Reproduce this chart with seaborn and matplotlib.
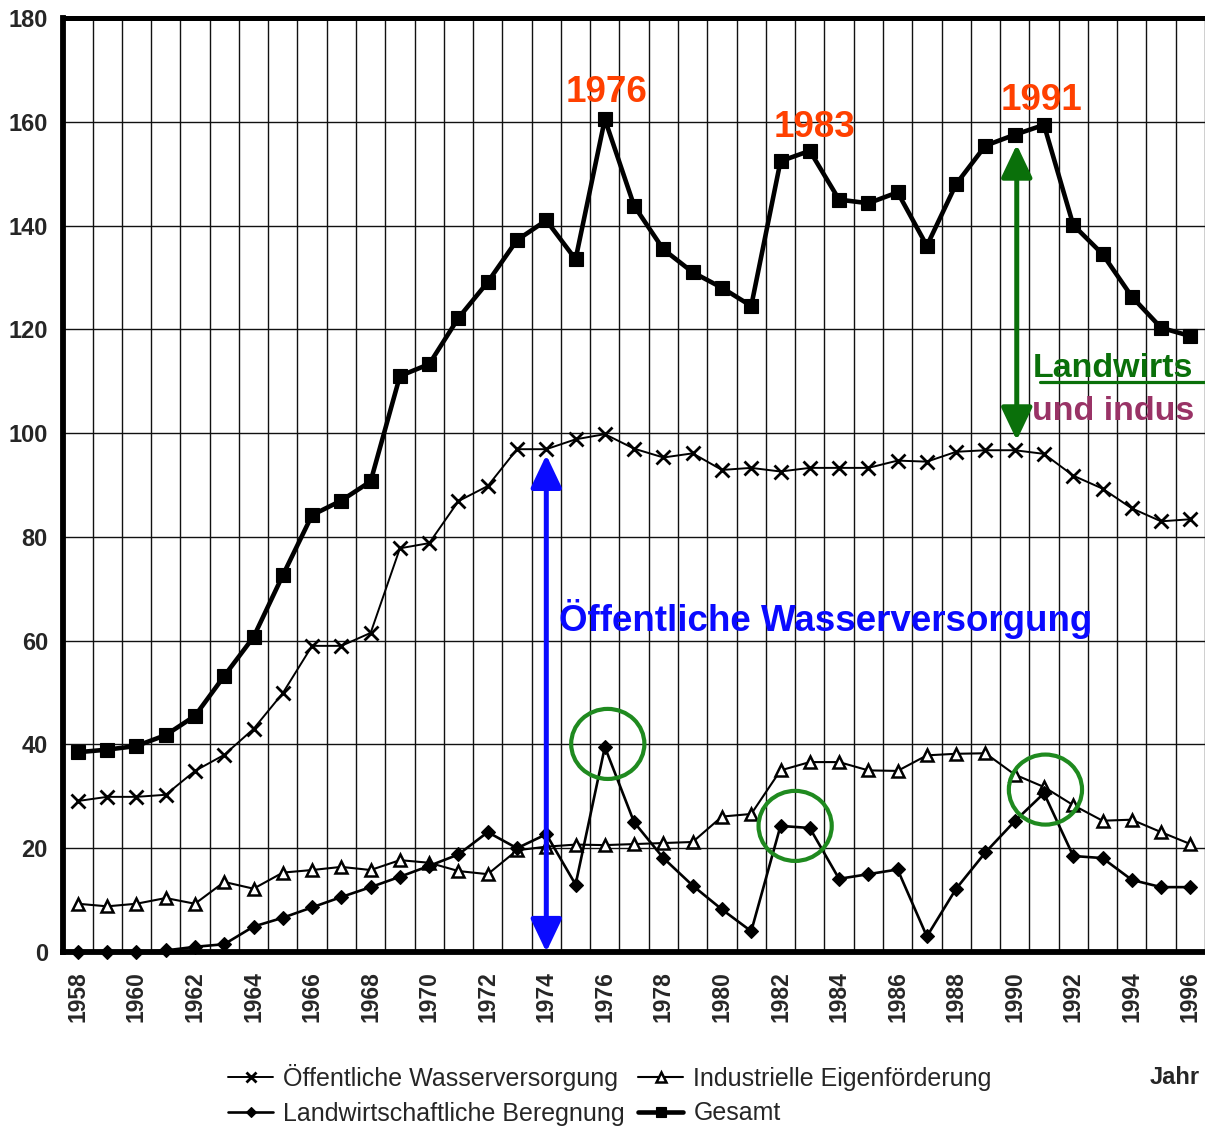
import numpy as np
import pandas as pd
import matplotlib
matplotlib.use("Agg")
import matplotlib.pyplot as plt
import seaborn as sns
from matplotlib.patches import Ellipse, FancyArrowPatch, ArrowStyle
from matplotlib.lines import Line2D

# ---------------- data ----------------
years = list(range(1958, 1997))
oeffentlich = [29.1, 29.9, 29.9, 30.3, 34.9, 38.0, 43.0, 49.9, 59.0, 59.0,
               61.5, 77.8, 78.8, 86.9, 89.8, 96.9, 96.9, 98.8, 99.8, 97.0,
               95.3, 96.1, 92.9, 93.3, 92.6, 93.3, 93.3, 93.3, 94.7, 94.5,
               96.4, 96.7, 96.7, 96.0, 91.8, 89.3, 85.5, 83.0, 83.4]
industrie = [9.3, 8.8, 9.3, 10.4, 9.3, 13.5, 12.2, 15.3, 15.8, 16.4,
             15.8, 17.7, 17.2, 15.6, 15.0, 19.6, 20.3, 20.7, 20.6, 20.8,
             21.0, 21.2, 26.1, 26.6, 35.0, 36.6, 36.6, 35.0, 34.9, 37.9,
             38.2, 38.3, 34.2, 31.8, 28.3, 25.3, 25.5, 23.1, 20.8]
landwirtschaft = [0.0, 0.0, 0.0, 0.3, 1.0, 1.5, 4.9, 6.6, 8.6, 10.6,
                  12.5, 14.5, 16.6, 18.8, 23.1, 20.0, 22.7, 13.0, 39.5, 25.0,
                  18.1, 12.8, 8.2, 4.0, 24.3, 23.9, 14.1, 15.0, 15.9, 3.0,
                  12.2, 19.2, 25.2, 30.6, 18.5, 18.1, 13.9, 12.5, 12.5]
gesamt = [38.5, 39.0, 39.7, 41.8, 45.5, 53.2, 60.7, 72.6, 84.2, 87.0,
          90.7, 111.0, 113.3, 122.2, 129.1, 137.2, 141.0, 133.5, 160.5, 143.8,
          135.4, 131.0, 128.0, 124.5, 152.4, 154.4, 145.0, 144.3, 146.4, 136.1,
          148.0, 155.4, 157.5, 159.4, 140.1, 134.5, 126.3, 120.3, 118.7]

series_labels = ["Öffentliche Wasserversorgung", "Industrielle Eigenförderung",
                 "Landwirtschaftliche Beregnung", "Gesamt"]
y_ticks = list(range(0, 181, 20))
x_tick_years = years[::2]

# ---------------- style ----------------
sns.set_style("white")
plt.rcParams["font.family"] = ["Liberation Sans", "DejaVu Sans"]

RED = "#FF4000"
BLUE = "#0A0AFF"
GREEN = "#0A700A"
CIRCLE_GREEN = "#1F8A1F"
PURPLE = "#993366"

W, H = 1205, 1127
fig = plt.figure(figsize=(W / 100, H / 100), dpi=100)
left_px, right_px, top_px, bottom_px = 63.25, 1205, 18, 952
ax = fig.add_axes([left_px / W, (H - bottom_px) / H,
                   (right_px - left_px) / W, (bottom_px - top_px) / H])

# ---------------- series ----------------
sns.lineplot(x=years, y=oeffentlich, ax=ax, color="black", linewidth=1.4,
             marker="x", markersize=9.5, markeredgewidth=2.0,
             markeredgecolor="black", label=series_labels[0], clip_on=False,
             zorder=4)
sns.lineplot(x=years, y=industrie, ax=ax, color="black", linewidth=1.5,
             marker="^", markersize=8.5, markeredgewidth=1.8,
             markerfacecolor="white", markeredgecolor="black",
             label=series_labels[1], clip_on=False, zorder=4)
sns.lineplot(x=years, y=landwirtschaft, ax=ax, color="black", linewidth=1.9,
             marker="D", markersize=7, markeredgewidth=0.8,
             markeredgecolor="black", label=series_labels[2], clip_on=False,
             zorder=5)
sns.lineplot(x=years, y=gesamt, ax=ax, color="black", linewidth=3.3,
             marker="s", markersize=9.5, markeredgewidth=0.8,
             markeredgecolor="black", label=series_labels[3], clip_on=False,
             zorder=6)

handles, labels = ax.get_legend_handles_labels()
if ax.get_legend() is not None:
    ax.get_legend().remove()

# ---------------- axes ----------------
x0 = 1957.5
ax.set_xlim(x0, x0 + (right_px - left_px) / 29.5)
ax.set_ylim(0, 180)
ax.set_xlabel("")
ax.set_ylabel("")

ax.set_yticks(y_ticks)
ax.set_yticklabels([str(v) for v in y_ticks], fontsize=17, fontweight="bold")
ax.set_xticks(x_tick_years)
ax.set_xticklabels([str(y) for y in x_tick_years], rotation=90,
                   fontsize=16.5, fontweight="bold", va="top")
ax.set_xticks(np.arange(1957.5, 1997.0, 1.0), minor=True)

ax.tick_params(axis="x", which="major", length=0, pad=14)
ax.tick_params(axis="x", which="minor", length=6.5, width=3.6,
               direction="out", color="black")
ax.tick_params(axis="y", which="major", length=4, width=3, pad=7,
               direction="out", color="black")

ax.grid(False)
ax.grid(True, axis="x", which="minor", color="#111111", linewidth=1.0)
ax.grid(True, axis="y", which="major", color="#111111", linewidth=1.0)
ax.set_axisbelow(True)

for side in ["left", "bottom"]:
    ax.spines[side].set_linewidth(4.2)
    ax.spines[side].set_color("black")
ax.spines["top"].set_linewidth(3.6)
ax.spines["top"].set_color("black")
ax.spines["right"].set_visible(False)
for sp in ax.spines.values():
    sp.set_zorder(7)

# ---------------- annotations ----------------
for yr, yv, txt in [(1976.07, 163.9, "1976"), (1983.15, 157.0, "1983"),
                    (1990.9, 162.2, "1991")]:
    ax.text(yr, yv, txt, color=RED, fontsize=26.5, fontweight="bold",
            ha="center", va="baseline", zorder=8)

ax.text(1974.42, 61.8, "Öffentliche Wasserversorgung", color=BLUE,
        fontsize=26.5, fontweight="bold", ha="left", va="baseline", zorder=8)

ax.text(1990.6, 110.9, "Landwirts", color=GREEN, fontsize=24.5,
        fontweight="bold", ha="left", va="baseline", zorder=8)
ax.text(1990.6, 102.5, "und indus", color=PURPLE, fontsize=24.5,
        fontweight="bold", ha="left", va="baseline", zorder=8)
fig.add_artist(Line2D([1040 / W, 1.0], [(H - 382) / H] * 2,
                      transform=fig.transFigure, color=GREEN, linewidth=2.3))

arrow_style = ArrowStyle("<|-|>", head_length=2.0, head_width=0.95)
blue_arrow = FancyArrowPatch((1974.0, 95.8), (1974.0, 0.0), arrowstyle=arrow_style,
                             mutation_scale=10, color=BLUE, linewidth=3.6,
                             shrinkA=0, shrinkB=0, zorder=8, clip_on=False)
ax.add_patch(blue_arrow)
green_arrow = FancyArrowPatch((1990.07, 155.6), (1990.07, 98.6), arrowstyle=arrow_style,
                              mutation_scale=10, color=GREEN, linewidth=3.6,
                              shrinkA=0, shrinkB=0, zorder=8)
ax.add_patch(green_arrow)

for cx, cy in [(1976.1, 40.1), (1982.5, 24.3), (1991.05, 31.3)]:
    ax.add_patch(Ellipse((cx, cy), width=2.5, height=13.5, fill=False,
                         edgecolor=CIRCLE_GREEN, linewidth=3.0, zorder=9))

# ---------------- legend ----------------
order = [0, 2, 1, 3]
leg_handles = []
for i in order:
    h = handles[i]
    leg_handles.append(Line2D([], [], color="black", linewidth=h.get_linewidth(),
                              marker=h.get_marker(),
                              markersize=h.get_markersize() * 0.8,
                              markeredgewidth=h.get_markeredgewidth(),
                              markerfacecolor=h.get_markerfacecolor(),
                              markeredgecolor="black"))
fig.legend(leg_handles, [series_labels[i] for i in order], ncol=2,
           loc="upper left", bbox_to_anchor=(228 / W, (H - 1064) / H),
           frameon=False, fontsize=18, handlelength=1.8, handletextpad=0.4,
           columnspacing=0.55, labelspacing=0.42, borderpad=0,
           borderaxespad=0)

fig.text(1150 / W, (H - 1078) / H, "Jahr", fontsize=17, fontweight="bold",
         ha="left", va="center")

fig.savefig("out.png", dpi=100)
